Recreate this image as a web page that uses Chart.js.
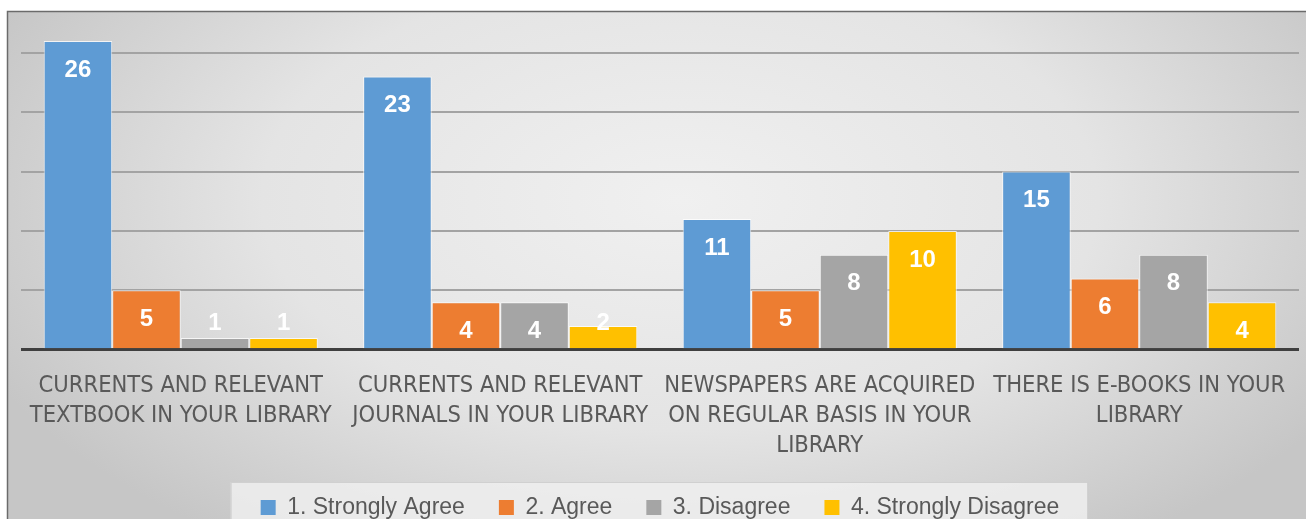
<!DOCTYPE html>
<html>
<head>
<meta charset="utf-8">
<script src="https://cdn.jsdelivr.net/npm/chart.js@4.4.1/dist/chart.umd.min.js"></script>
<style>
  html, body { margin: 0; padding: 0; background: #fff; overflow: hidden; }
  #wrap { position: absolute; left: 0; top: 0; width: 1306px; height: 519px; }
</style>
</head>
<body>
<div id="wrap"><canvas id="surveyChart" width="1306" height="519"></canvas></div>
<script>
// survey results - library resources
const categories = [
  ['CURRENTS AND RELEVANT', 'TEXTBOOK IN YOUR LIBRARY'],
  ['CURRENTS AND RELEVANT', 'JOURNALS IN YOUR LIBRARY'],
  ['NEWSPAPERS ARE ACQUIRED', 'ON REGULAR BASIS IN YOUR', 'LIBRARY'],
  ['THERE IS E-BOOKS IN YOUR', 'LIBRARY']
];
const seriesNames = ['1. Strongly Agree', '2. Agree', '3. Disagree', '4. Strongly Disagree'];
const stronglyAgree = [26, 23, 11, 15];
const agree = [5, 4, 5, 6];
const disagree = [1, 4, 8, 8];
const stronglyDisagree = [1, 2, 10, 4];
const yTicks = [0, 5, 10, 15, 20, 25];

const COLORS = ['#5E9BD4', '#ED7D31', '#A5A5A5', '#FFC000'];
const seriesValues = [stronglyAgree, agree, disagree, stronglyDisagree];

// background: white page, grey radial gradient panel, dark frame top/left, legend box
const bgPlugin = {
  id: 'bgPanel',
  beforeDraw(chart) {
    const c = chart.ctx;
    const w = chart.width, h = chart.height;
    c.save();
    c.fillStyle = '#ffffff';
    c.fillRect(0, 0, w, h);
    c.translate(680, 200);
    c.scale(1, 0.55);
    const g = c.createRadialGradient(0, 0, 0, 0, 0, 760);
    g.addColorStop(0, '#f0f0f0');
    g.addColorStop(0.55, '#e4e4e4');
    g.addColorStop(1, '#c6c6c6');
    c.fillStyle = g;
    c.fillRect(-680 + 8, (-200 + 12) / 0.55, w, h / 0.55);
    c.restore();

    c.save();
    c.strokeStyle = '#6b6b6b';
    c.lineWidth = 1.5;
    c.beginPath();
    c.moveTo(7.5, h);
    c.lineTo(7.5, 11.5);
    c.lineTo(w, 11.5);
    c.stroke();
    c.restore();

    const lg = chart.legend;
    if (!lg || !lg.legendHitBoxes || !lg.legendHitBoxes.length) return;
    const boxes = lg.legendHitBoxes;
    const last = boxes[boxes.length - 1];
    const left = boxes[0].left - 30;
    const right = last.left + last.width + 28;
    c.save();
    c.fillStyle = 'rgba(238,238,238,0.85)';
    c.fillRect(left, 482, right - left, h - 482);
    c.strokeStyle = 'rgba(205,205,205,0.9)';
    c.lineWidth = 1;
    c.strokeRect(left + 0.5, 482.5, right - left, h);
    c.restore();
  }
};

// value labels inside bar ends, white bold
const valueLabels = {
  id: 'valueLabels',
  afterDatasetsDraw(chart) {
    const c = chart.ctx;
    c.save();
    c.font = 'bold 24px "Liberation Sans", Arial, sans-serif';
    c.fillStyle = '#ffffff';
    c.textAlign = 'center';
    c.textBaseline = 'middle';
    chart.data.datasets.forEach((ds, di) => {
      const meta = chart.getDatasetMeta(di);
      meta.data.forEach((bar, i) => {
        const hgt = bar.base - bar.y;
        const cy = hgt < 40 ? bar.base - 25 : bar.y + 29;
        c.fillText(String(ds.data[i]), bar.x, cy);
      });
    });
    c.restore();
  }
};

new Chart(document.getElementById('surveyChart'), {
  type: 'bar',
  data: {
    labels: categories,
    datasets: seriesNames.map((name, i) => ({
      label: name,
      data: seriesValues[i],
      backgroundColor: COLORS[i],
      borderColor: 'rgba(255,255,255,0.75)',
      borderWidth: 1,
      barPercentage: 1,
      categoryPercentage: 0.858
    }))
  },
  options: {
    responsive: false,
    animation: false,
    devicePixelRatio: 1,
    layout: { padding: { left: 21, right: 7, top: 29, bottom: -10 } },
    plugins: {
      tooltip: { enabled: false },
      legend: {
        position: 'bottom',
        labels: {
          color: '#595959',
          font: { family: '"Liberation Sans", Arial, sans-serif', size: 23 },
          boxWidth: 15,
          boxHeight: 15,
          padding: 34,
          generateLabels: chart => Chart.defaults.plugins.legend.labels.generateLabels(chart)
            .map(l => Object.assign(l, { lineWidth: 0, strokeStyle: 'transparent' }))
        }
      }
    },
    scales: {
      x: {
        grid: { display: false },
        border: { display: false },
        afterFit: axis => { axis.height -= 12; },
        ticks: {
          color: '#595959',
          font: { family: '"DejaVu Sans Condensed", "DejaVu Sans", sans-serif', size: 23.5, lineHeight: 1.28 },
          padding: 13,
          maxRotation: 0,
          autoSkip: false
        }
      },
      y: {
        min: 0,
        max: 27,
        border: { display: false },
        afterBuildTicks: axis => { axis.ticks = yTicks.map(v => ({ value: v })); },
        ticks: { display: false },
        grid: {
          drawTicks: false,
          color: ctx => ctx.tick && ctx.tick.value === 0 ? '#3f3f3f' : '#a3a3a3',
          lineWidth: ctx => ctx.tick && ctx.tick.value === 0 ? 3 : 2
        }
      }
    }
  },
  plugins: [bgPlugin, valueLabels]
});
</script>
</body>
</html>
